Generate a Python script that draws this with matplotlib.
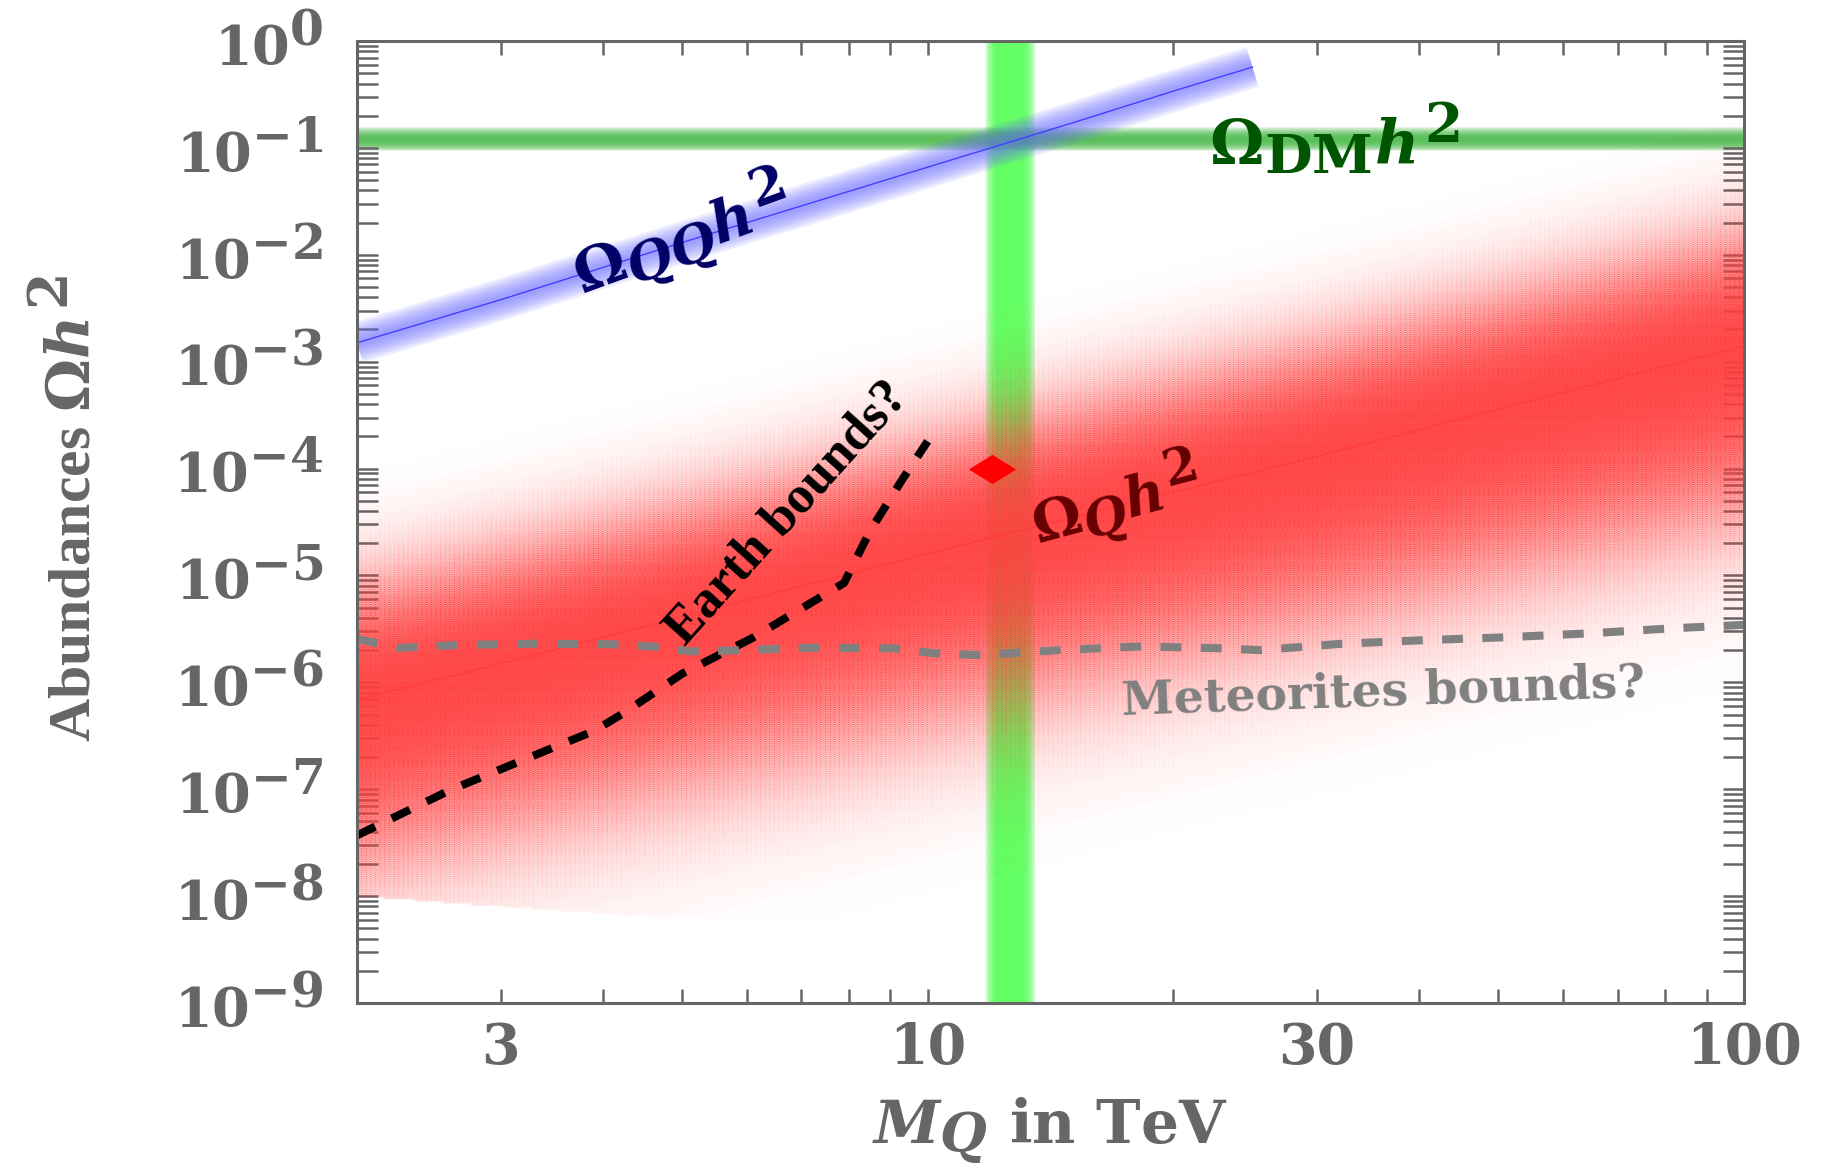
import numpy as np
import matplotlib
matplotlib.use("Agg")
import matplotlib.pyplot as plt
from matplotlib import _mathtext
from matplotlib.colors import LinearSegmentedColormap
from matplotlib.ticker import FixedLocator, LogLocator, NullFormatter

# bigger sub/superscripts, like the Mathematica original
_mathtext.SHRINK_FACTOR = 0.9

# ---- data ----
# DM abundance (horizontal band) and DM mass (vertical band)
omega_dm = 0.12
mq_dm = 12.6

# benchmark point (red diamond)
mq_point = [12.0]
omega_point = [1e-4]

# Omega_QQ h^2 (blue)
mq_qq = [2, 3, 5, 10, 15, 20, 25]
omega_qq = [1.5e-3, 3.8e-3, 1.3e-2, 6.6e-2, 0.17, 0.34, 0.57]

# Omega_Q h^2 (red band): centre line and lower cut
mq_q = [2, 3, 5, 10, 20, 30, 50, 100]
omega_q = [6.9e-7, 1.5e-6, 4.1e-6, 1.6e-5, 6.0e-5, 1.3e-4, 3.6e-4, 1.4e-3]
mq_q_low = [2, 4.6, 10, 100]
omega_q_low = [1.0e-8, 6.3e-9, 5e-9, 3e-9]

# Earth bounds (black dashed)
mq_earth = [2.0, 2.6, 3.5, 3.9, 4.25, 5.0, 6.1, 6.7, 7.9, 8.5, 9.3, 10.0]
omega_earth = [3.7e-8, 9.8e-8, 2.5e-7, 3.5e-7, 5.2e-7, 1.2e-6, 2.6e-6,
               4.0e-6, 8.5e-6, 2.6e-5, 7.8e-5, 1.8e-4]

# Meteorites bounds (gray dashed)
mq_met = [2.0, 2.25, 2.6, 3.3, 4.1, 4.6, 5.1, 5.7, 7.2, 9.1, 10.2, 11.5,
          14.5, 18.3, 22.9, 25.5, 32, 40, 51, 65, 81, 100]
omega_met = [2.55e-6, 2.1e-6, 2.22e-6, 2.3e-6, 2.27e-6, 2.16e-6, 1.95e-6,
             1.98e-6, 2.11e-6, 2.08e-6, 1.87e-6, 1.8e-6, 2.0e-6, 2.17e-6,
             2.08e-6, 2.0e-6, 2.29e-6, 2.47e-6, 2.64e-6, 2.88e-6, 3.19e-6,
             3.45e-6]

xticks = [3, 10, 30, 100]
xtick_labels = ["3", "10", "30", "100"]
x_minor = [4, 5, 6, 7, 8, 9, 20, 40, 50, 60, 70, 80, 90]
yticks = [1e-9, 1e-8, 1e-7, 1e-6, 1e-5, 1e-4, 1e-3, 1e-2, 1e-1, 1e0]
ytick_labels = [r"$10^{-9}$", r"$10^{-8}$", r"$10^{-7}$", r"$10^{-6}$",
                r"$10^{-5}$", r"$10^{-4}$", r"$10^{-3}$", r"$10^{-2}$",
                r"$10^{-1}$", r"$10^{0}$"]

GRAY = "#666666"

plt.rcParams["font.family"] = "DejaVu Serif"
plt.rcParams["font.weight"] = "bold"
plt.rcParams["mathtext.fontset"] = "custom"
plt.rcParams["mathtext.rm"] = "DejaVu Serif:bold"
plt.rcParams["mathtext.bf"] = "DejaVu Serif:bold"
plt.rcParams["mathtext.it"] = "DejaVu Serif:italic:bold"

fig = plt.figure(figsize=(18.21, 11.72), dpi=100)
ax = fig.add_axes([0.19605, 0.14420, 0.76167, 0.82082])
ax.set_xscale("log")
ax.set_yscale("log")
ax.set_xlim(2, 100)
ax.set_ylim(1e-9, 1)

# green bands (soft edges from stacked lines)
for lw in np.arange(36, 18, -2):
    ax.axvline(mq_dm, color=(0.33, 1, 0.33), lw=lw, alpha=0.22, zorder=1)
for lw in np.arange(17, 3, -1.5):
    ax.axhline(omega_dm, color=(0.27, 0.72, 0.27), lw=lw, alpha=0.18, zorder=1.5)

# red band with fading edges
gx = np.logspace(np.log10(2), 2, 300)
gy = np.logspace(-9, 0, 450)
lx = np.log10(gx)
ly = np.log10(gy)[:, None]
centre = np.interp(lx, np.log10(mq_q), np.log10(omega_q))[None, :]
low = np.interp(lx, np.log10(mq_q_low), np.log10(omega_q_low))[None, :]
d = ly - centre
width = np.where(d > 0, 0.9, 1.35)
z = np.exp(-(d / width) ** 2)
z = np.where(ly < low, 0, z)
red_cmap = LinearSegmentedColormap.from_list(
    "redfade", [(1, 0.25, 0.25, 0), (1, 0.25, 0.25, 0.74)])
ax.pcolormesh(gx, gy, z, cmap=red_cmap, vmin=0, vmax=1,
              shading="gouraud", zorder=2)
ax.plot(mq_q, omega_q, color="#ff3030", lw=1.2, alpha=0.45, zorder=2.1)

# blue glowing line
for lw in np.arange(30, 3, -3):
    ax.plot(mq_qq, omega_qq, color=(0.42, 0.42, 1), lw=lw, alpha=0.1,
            solid_capstyle="butt", zorder=3)
ax.plot(mq_qq, omega_qq, color=(0.25, 0.25, 1), lw=1, zorder=3.1)

# bounds
ax.plot(mq_earth, omega_earth, color="black", lw=5.8, dashes=(2.5, 2.3), zorder=4)
ax.plot(mq_met, omega_met, color="#808080", lw=5.8, dashes=(2.6, 2.4), zorder=4)

# benchmark point
diamond = [(-1, 0), (0, 0.62), (1, 0), (0, -0.62), (-1, 0)]
ax.plot(mq_point, omega_point, ls="none", marker=diamond, ms=34,
        color="red", mew=0, zorder=5)

# labels inside
ax.text(5.0, 1.45e-2, r"$\Omega_{QQ}h^2$", color="#000066", fontsize=42,
        rotation=20, ha="center", va="center", rotation_mode="anchor", zorder=6)
ax.text(31.5, 0.12, r"$\Omega_{\mathrm{DM}}h^2$", color="#005500", fontsize=44,
        ha="center", va="center", zorder=6)
ax.text(17.0, 4.8e-5, r"$\Omega_{Q}h^2$", color="#660000", fontsize=40,
        rotation=15, ha="center", va="center", rotation_mode="anchor", zorder=6)
ax.text(6.74, 3.8e-5, "Earth bounds?", family="Liberation Serif",
        weight="bold", fontsize=38, color="black", rotation=48,
        ha="center", va="center", rotation_mode="anchor", zorder=6)
ax.text(36.2, 8e-7, "Meteorites bounds?", fontsize=34, color="#808080",
        rotation=2, ha="center", va="center", rotation_mode="anchor", zorder=6)

# axes styling
for s in ax.spines.values():
    s.set_color(GRAY)
    s.set_linewidth(2.2)
    s.set_zorder(7)

ax.set_xticks(xticks, xtick_labels, fontsize=40, fontweight="bold",
              family="DejaVu Serif", color=GRAY)
ax.xaxis.set_minor_locator(FixedLocator(x_minor))
ax.xaxis.set_minor_formatter(NullFormatter())
ax.set_yticks(yticks, ytick_labels, fontsize=39, color=GRAY)
ax.yaxis.set_minor_locator(LogLocator(base=10, subs=np.arange(2, 10), numticks=100))
ax.yaxis.set_minor_formatter(NullFormatter())

ax.tick_params(axis="y", which="both", direction="in", length=15, width=1.8,
               color=GRAY, left=True, right=True, pad=24)
ax.tick_params(axis="x", which="both", direction="in", length=10, width=1.8,
               color=GRAY, top=True, bottom=True, pad=13)

fig.text(0.5766, 0.024, r"$M_Q$ in TeV", fontsize=43, color=GRAY,
         ha="center", va="baseline")
fig.text(0.0384, 0.5666, r"Abundances $\Omega h^2$", family="Liberation Serif",
         weight="bold", fontsize=43, color=GRAY, rotation=90,
         ha="center", va="center")

fig.savefig("out.png", dpi=100)
